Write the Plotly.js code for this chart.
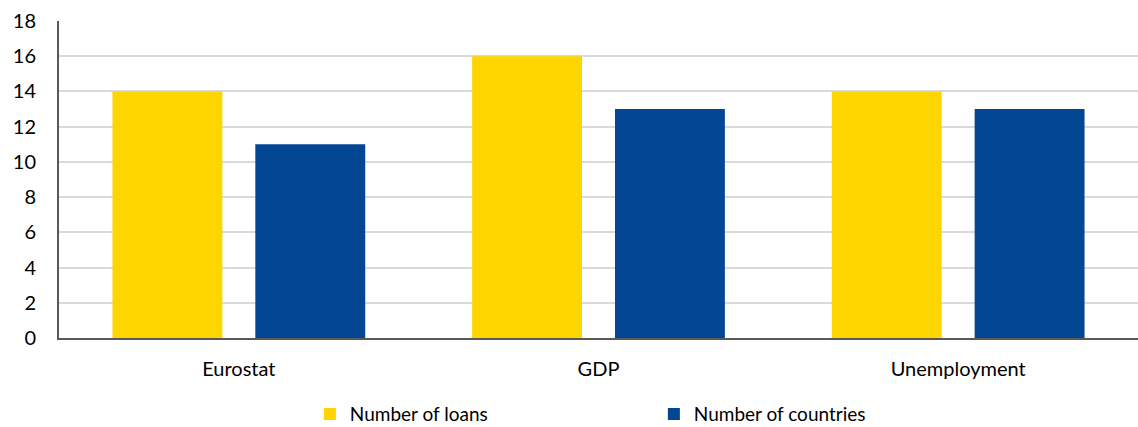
<!DOCTYPE html>
<html>
<head>
<meta charset="utf-8">
<script src="https://cdn.plot.ly/plotly-3.0.1.min.js"></script>
<style>html,body{margin:0;padding:0;background:#fff;}#chart{width:1138px;height:427px;}</style>
</head>
<body>
<div id="chart"></div>
<script>
const categories = ["Eurostat", "GDP", "Unemployment"];
const loans = [14, 16, 14];
const countries = [11, 13, 13];
const seriesNames = ["Number of loans", "Number of countries"];
const yTicks = [0, 2, 4, 6, 8, 10, 12, 14, 16, 18];

const fam = "Lato, 'Open Sans', sans-serif";

const data = [
  {type: "bar", x: categories, y: loans, name: seriesNames[0], marker: {color: "#FFD500"}},
  {type: "bar", x: categories, y: countries, name: seriesNames[1], marker: {color: "#034694"}}
];

const layout = {
  width: 1138, height: 427,
  margin: {l: 59, r: 0, t: 21, b: 89, autoexpand: false},
  paper_bgcolor: "#fff", plot_bgcolor: "#fff",
  font: {family: fam, size: 19, color: "#000"},
  barmode: "group",
  bargap: 0.2056,
  bargroupgap: 0.2308,
  showlegend: true,
  legend: {orientation: "h", x: 0.2325, xanchor: "left", yref: "container", y: 0.03, yanchor: "middle",
           font: {family: fam, size: 19, color: "#000"}, entrywidth: 299, entrywidthmode: "pixels",
           itemwidth: 30, traceorder: "normal"},
  xaxis: {type: "category", showline: true, linecolor: "#595959", linewidth: 2, ticks: "", showgrid: false,
          ticklabelstandoff: 12, automargin: false,
          tickfont: {family: fam, size: 20, color: "#000"}},
  yaxis: {range: [0, 18], tickvals: yTicks, showgrid: true, gridcolor: "#D9D9D9", gridwidth: 2,
          showline: true, linecolor: "#595959", linewidth: 2, ticks: "", zeroline: false,
          ticklabelstandoff: 17, automargin: false,
          tickfont: {family: fam, size: 20, color: "#000"}}
};

Plotly.newPlot("chart", data, layout, {displayModeBar: false, staticPlot: true});
</script>
</body>
</html>
